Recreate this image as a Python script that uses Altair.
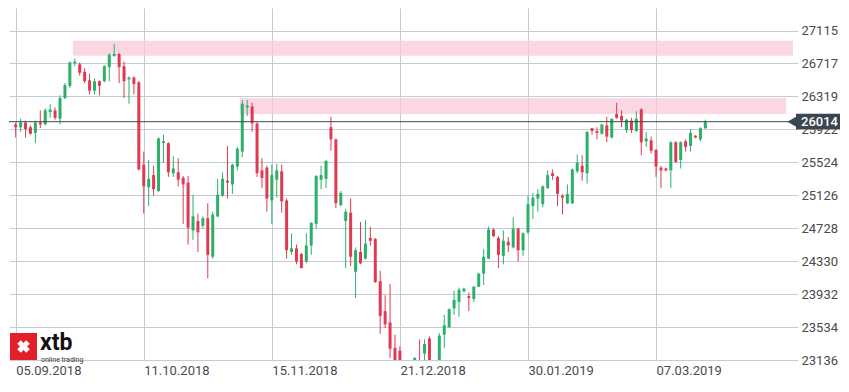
import altair as alt
import pandas as pd

# ---- data (US30 daily candles) ----
opens = [25981, 25947, 26004, 25947, 25879, 26004, 25981, 26129, 26151, 26049,
         26299, 26446, 26718, 26707, 26616, 26514, 26389, 26503, 26503, 26673,
         26809, 26832, 26684, 26525, 26548, 26491, 25494, 25222, 25369, 25177,
         25755, 25755, 25392, 25403, 25335, 25279, 24700, 24814, 24757, 24848,
         24383, 24870, 25120, 25301, 25256, 25471, 25653, 26185, 26197, 25993,
         25426, 25460, 25063, 25313, 25415, 25063, 24440, 24485, 24417, 24326,
         24519, 24780, 25313, 25324, 25947, 25800, 25006, 24814, 24916, 24202,
         24440, 24360, 24610, 24598, 24088, 23726, 23590, 23283, 23250, 22450,
         21800, 22900, 23120, 23215, 23397, 22950, 22700, 23442, 23533, 23760,
         23839, 23964, 23907, 23873, 24020, 24179, 24360, 24712, 24610, 24394,
         24564, 24496, 24723, 24462, 24678, 24995, 25086, 25018, 25211, 25392,
         25347, 25120, 25029, 25029, 25415, 25482, 25392, 25936, 25902, 25868,
         25970, 25823, 26106, 26083, 25913, 26027, 25902, 26163, 25777, 25789,
         25675, 25460, 25449, 25426, 25766, 25551, 25777, 25721, 25845, 25800,
         25936]
highs = [26004, 26049, 26027, 25970, 26027, 26151, 26174, 26231, 26185, 26333,
         26480, 26741, 26775, 26730, 26662, 26593, 26537, 26514, 26696, 26843,
         26956, 26843, 26741, 26560, 26560, 26503, 25653, 25551, 25482, 25823,
         25857, 25766, 25596, 25573, 25358, 25358, 25131, 24904, 24870, 25029,
         24927, 25324, 25403, 25721, 25505, 25709, 26276, 26276, 26242, 26004,
         25573, 25482, 25494, 25505, 25494, 25086, 24666, 24530, 24429, 24666,
         24800, 25369, 25482, 25551, 26072, 25811, 25177, 24961, 25086, 24496,
         24802, 24825, 24746, 24610, 24213, 23918, 24054, 23442, 23300, 22550,
         22900, 23170, 23385, 23385, 23420, 23050, 23460, 23680, 23760, 23975,
         24009, 24009, 23952, 24032, 24190, 24474, 24746, 24723, 24632, 24700,
         24621, 24859, 24730, 24678, 25120, 25154, 25199, 25245, 25426, 25437,
         25358, 25142, 25256, 25449, 25619, 25607, 25900, 25940, 25947, 25985,
         26072, 26055, 26242, 26151, 26049, 26061, 26140, 26174, 25891, 25834,
         25680, 25482, 25460, 25777, 25777, 25777, 25800, 25925, 25850, 25947,
         26038]
lows = [25823, 25891, 25823, 25857, 25755, 25936, 25970, 26061, 26038, 25981,
        26287, 26423, 26684, 26571, 26480, 26344, 26344, 26333, 26490, 26503,
        26798, 26480, 26299, 26231, 26344, 25426, 24904, 24995, 25120, 25165,
        25517, 25347, 25347, 25233, 24780, 24530, 24587, 24440, 24723, 24122,
        24360, 24860, 25108, 25086, 25142, 25426, 25585, 26083, 25891, 25347,
        25211, 24927, 24780, 25097, 24916, 24360, 24406, 24292, 24240, 24304,
        24406, 24723, 25199, 25211, 25664, 24972, 24995, 24247, 24270, 23884,
        24292, 24349, 24519, 24066, 23453, 23522, 23159, 22700, 22300, 21700,
        21700, 22300, 22900, 23080, 22900, 22650, 22650, 23283, 23522, 23680,
        23658, 23952, 23726, 23839, 24015, 24043, 24355, 24621, 24247, 24292,
        24440, 24485, 24326, 24394, 24655, 24837, 24927, 24984, 25205, 25313,
        24995, 24893, 25018, 25020, 25392, 25301, 25267, 25857, 25800, 25857,
        25766, 25811, 26049, 25947, 25879, 25879, 25891, 25607, 25709, 25630,
        25347, 25211, 25415, 25211, 25517, 25449, 25653, 25653, 25815, 25777,
        25925]
closes = [25947, 26004, 25925, 25868, 26004, 25981, 26151, 26163, 26061, 26299,
          26457, 26730, 26741, 26605, 26503, 26389, 26503, 26446, 26684, 26820,
          26832, 26673, 26503, 26548, 26469, 25437, 25233, 25324, 25199, 25811,
          25777, 25403, 25449, 25313, 25256, 24734, 24870, 24678, 24848, 24406,
          24893, 25131, 25324, 25279, 25494, 25687, 26231, 26208, 25993, 25392,
          25335, 25086, 25369, 25426, 25052, 24462, 24485, 24326, 24247, 24519,
          24791, 25358, 25369, 25539, 25800, 25029, 25154, 24927, 24383, 24462,
          24304, 24542, 24576, 24077, 23669, 23567, 23272, 22860, 22450, 21800,
          22880, 23160, 23050, 23329, 23000, 22700, 23431, 23556, 23749, 23862,
          23986, 23998, 23884, 24020, 24179, 24383, 24712, 24632, 24406, 24576,
          24519, 24723, 24462, 24666, 25018, 25097, 25142, 25233, 25369, 25358,
          25142, 25097, 25142, 25437, 25517, 25403, 25891, 25902, 25879, 25981,
          25834, 26049, 26061, 26027, 26038, 25913, 26049, 25766, 25811, 25664,
          25471, 25426, 25426, 25766, 25528, 25766, 25709, 25879, 25823, 25936,
          26014]

date_ticks = [0, 26, 52, 78, 104, 130]
date_labels = ["05.09.2018", "11.10.2018", "15.11.2018", "21.12.2018", "30.01.2019", "07.03.2019"]
price_ticks = [23136, 23534, 23932, 24330, 24728, 25126, 25524, 25922, 26319, 26717, 27115]
last_price = 26014

zone_start = [11.6, 45.5]
zone_end = [157.8, 156.4]
zone_low = [26810, 26107]
zone_high = [26992, 26300]

# ---- frames ----
df = pd.DataFrame({
    "i": list(range(len(opens))),
    "open": opens, "high": highs, "low": lows, "close": closes,
})
df["dir"] = ["up" if c >= o else "down" for o, c in zip(opens, closes)]
zones = pd.DataFrame({"x0": zone_start, "x1": zone_end, "lo": zone_low, "hi": zone_high})
last_df = pd.DataFrame({"p": [last_price], "label": [str(last_price)]})

XMIN, XMAX = -0.34, 157.8
YMIN, YMAX = 23136, 27387
W, H = 789, 352

GREEN = "#2bb06a"
RED = "#e03a52"
GRID = "#c3ccd5"
TEXT = "#4a4a4a"
DARK = "#3a4651"

label_expr = "''"
for t, l in reversed(list(zip(date_ticks, date_labels))):
    label_expr = f"datum.value == {t} ? '{l}' : {label_expr}"

xs = alt.Scale(domain=[XMIN, XMAX], nice=False, zero=False)
ys = alt.Scale(domain=[YMIN, YMAX], nice=False, zero=False)
cs = alt.Scale(domain=["up", "down"], range=[GREEN, RED])

x_axis = alt.Axis(values=date_ticks, tickCount=40, labelExpr=label_expr, grid=True,
                  gridColor=GRID, gridWidth=1, domain=False, ticks=False, labelAlign="left",
                  labelPadding=4, labelFontSize=13, labelColor=TEXT, labelFont="Roboto",
                  labelFlush=False, labelOverlap=False, title=None)
y_axis = alt.Axis(orient="right", values=price_ticks, tickCount=40, format="d", grid=True,
                  gridColor=GRID, gridWidth=1, domain=False, ticks=False, labelAlign="left",
                  labelPadding=3, labelBaseline="middle", labelFontSize=13, labelColor=TEXT,
                  labelFont="Roboto", labelOverlap=False, labelFlush=False, title=None)

zone_layer = alt.Chart(zones).mark_rect(color="#f8c9d8", opacity=0.75, clip=True).encode(
    x=alt.X("x0:Q", scale=xs, axis=x_axis), x2="x1:Q",
    y=alt.Y("lo:Q", scale=ys, axis=y_axis), y2="hi:Q",
)

wicks = alt.Chart(df).mark_rule(strokeWidth=1, clip=True).encode(
    x=alt.X("i:Q", scale=xs, axis=x_axis), y=alt.Y("low:Q", scale=ys, axis=y_axis), y2="high:Q",
    color=alt.Color("dir:N", scale=cs, legend=None),
)
bodies = alt.Chart(df).mark_bar(width=3, clip=True).encode(
    x=alt.X("i:Q", scale=xs, axis=x_axis), y=alt.Y("open:Q", scale=ys, axis=y_axis), y2="close:Q",
    color=alt.Color("dir:N", scale=cs, legend=None),
)

last_line = alt.Chart(last_df).mark_rule(color=DARK, strokeWidth=1).encode(
    y=alt.Y("p:Q", scale=ys, axis=y_axis), x=alt.value(0), x2=alt.value(W),
)
tag_box = alt.Chart(last_df).mark_rect(color=DARK, clip=False).encode(
    x=alt.value(787), x2=alt.value(831),
    y=alt.Y("p1:Q", scale=ys, axis=y_axis), y2="p2:Q",
).transform_calculate(p1="datum.p + 95", p2="datum.p - 95")
tag_tip = alt.Chart(last_df).mark_point(shape="triangle-left", filled=True, opacity=1,
                                        color=DARK, size=110, clip=False).encode(
    x=alt.value(783), y=alt.Y("p:Q", scale=ys, axis=y_axis),
)
tag_text = alt.Chart(last_df).mark_text(align="left", baseline="middle", color="white",
                                        fontSize=13, font="Roboto", fontWeight=500,
                                        clip=False).encode(
    x=alt.value(792), y=alt.Y("p:Q", scale=ys, axis=y_axis), text="label:N",
)

# logo (decoration)
logo_df = pd.DataFrame({"a": [0]})
logo_box = alt.Chart(logo_df).mark_rect(color="#e3202a").encode(
    x=alt.value(1), x2=alt.value(28), y=alt.value(325), y2=alt.value(352),
)
logo_x = alt.Chart(logo_df).mark_point(shape="cross", filled=True, opacity=1, color="white",
                                       size=160, angle=45).encode(
    x=alt.value(14.5), y=alt.value(338.5),
)
logo_txt = alt.Chart(logo_df).mark_text(text="xtb", align="left", baseline="alphabetic",
                                        fontSize=23, fontWeight="bold", font="Roboto",
                                        color="#111111").encode(
    x=alt.value(31), y=alt.value(342),
)
logo_sub = alt.Chart(logo_df).mark_text(text="online trading", align="left",
                                        baseline="alphabetic", fontSize=7, font="Roboto",
                                        color="#333333").encode(
    x=alt.value(32), y=alt.value(354),
)

chart = alt.layer(
    zone_layer, wicks, bodies, last_line, tag_box, tag_tip, tag_text,
    logo_box, logo_x, logo_txt, logo_sub,
).properties(width=W, height=H, padding=0, background="white").configure_view(
    stroke=None
)

chart.save("out.html", embed_options={"renderer": "svg", "actions": False})
